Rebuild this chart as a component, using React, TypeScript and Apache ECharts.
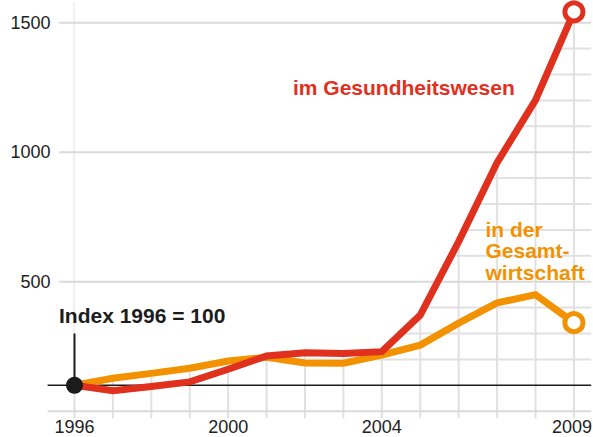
import React, { useEffect, useRef } from "react";
import * as echarts from "echarts";

// ---- data ----
const years = [1996, 1997, 1998, 1999, 2000, 2001, 2002, 2003, 2004, 2005, 2006, 2007, 2008, 2009];
const health = [100, 79, 95, 113, 162, 213, 226, 223, 230, 371, 655, 960, 1201, 1542];
const economy = [100, 127, 146, 166, 194, 208, 186, 185, 217, 255, 340, 418, 450, 342];
const xLabelYears = [1996, 2000, 2004, 2009];
const yTickValues = [0, 500, 1000, 1500];
const majorLevels = [500, 1000, 1500];
const minorLevels = [200, 300, 400, 600, 700, 800, 900, 1100, 1200, 1300, 1400];
const indexLevel = 100;
const zeroLevel = 0;
const indexMarkerTop = 300;

const healthLabel = "im Gesundheitswesen";
const economyLabel = ["in der", "Gesamt-", "wirtschaft"];
const indexLabel = "Index 1996 = 100";

// ---- style ----
const RED = "#e0301e";
const ORANGE = "#f39200";
const GRID = "#e1e1e1";
const MAJOR = "#dadada";
const INK = "#1c1c1c";
const FONT = '"Liberation Sans", Arial, sans-serif';

const X_MIN = 1995.3;
const X_MAX = 2009.45;
const MAJOR_START = 1995.6;
const Y_MAX = 1580;

export default function App() {
  const ref = useRef<HTMLDivElement>(null);

  useEffect(() => {
    if (!ref.current) return;
    const chart = echarts.init(ref.current, undefined, { renderer: "svg" });

    const last = years.length - 1;
    const maskData: number[][] = years.map((y, i) => [y, Math.max(health[i], economy[i])]);
    maskData.push([X_MAX, health[last]]);

    const lineSeg = (a: number[], b: number[], stroke: string, w: number) => ({
      type: "line",
      shape: { x1: a[0], y1: a[1], x2: b[0], y2: b[1] },
      style: { stroke, lineWidth: w },
    });

    const option: any = {
      animation: false,
      grid: { left: 47.6, right: 1.8, top: 2, bottom: 25.8, containLabel: false, outerBoundsMode: "none" },
      xAxis: {
        type: "value",
        min: X_MIN,
        max: X_MAX,
        axisLine: { show: false },
        axisTick: { show: false },
        axisLabel: { show: false },
        splitLine: { show: false },
      },
      yAxis: {
        type: "value",
        min: 0,
        max: Y_MAX,
        interval: 500,
        axisLine: { show: false },
        axisTick: { show: false },
        splitLine: { show: false },
        axisLabel: {
          margin: -3,
          fontSize: 18,
          color: "#222",
          fontFamily: FONT,
          showMaxLabel: false,
          formatter: (v: number) => (yTickValues.indexOf(v) > 0 ? String(v) : ""),
        },
      },
      series: [
        // minor vertical grid lines (with ticks below the zero line)
        {
          type: "custom",
          z: 1,
          silent: true,
          clip: false,
          data: years.map((y) => [y, zeroLevel]),
          renderItem: (_p: any, api: any) => {
            const yr = api.value(0);
            const top = api.coord([yr, Y_MAX]);
            const bot = api.coord([yr, zeroLevel]);
            return lineSeg(top, [bot[0], bot[1] + 7], GRID, 2);
          },
        },
        // minor horizontal grid lines
        {
          type: "custom",
          z: 1,
          silent: true,
          clip: false,
          data: minorLevels.map((v) => [years[0], v]),
          renderItem: (_p: any, api: any) => {
            const v = api.value(1);
            return lineSeg(api.coord([years[0], v]), api.coord([X_MAX, v]), GRID, 2);
          },
        },
        // white mask above the curves
        {
          type: "line",
          z: 2,
          silent: true,
          symbol: "none",
          data: maskData,
          lineStyle: { width: 0, opacity: 0 },
          areaStyle: { origin: "end", color: "#ffffff", opacity: 1 },
        },
        // major lines
        {
          type: "custom",
          z: 3,
          silent: true,
          clip: false,
          data: majorLevels.map((v) => [MAJOR_START, v]),
          renderItem: (_p: any, api: any) => {
            const v = api.value(1);
            return lineSeg(api.coord([MAJOR_START, v]), api.coord([X_MAX, v]), MAJOR, 2);
          },
        },
        // zero line + index line + index marker
        {
          type: "custom",
          z: 3,
          silent: true,
          clip: false,
          data: [[years[0], indexLevel]],
          renderItem: (_p: any, api: any) => {
            const zA = api.coord([X_MIN, zeroLevel]);
            const zB = api.coord([X_MAX, zeroLevel]);
            const iA = api.coord([X_MIN, indexLevel]);
            const iB = api.coord([X_MAX, indexLevel]);
            const mA = api.coord([years[0], indexLevel]);
            const mB = api.coord([years[0], indexMarkerTop]);
            return {
              type: "group",
              children: [
                lineSeg(zA, zB, MAJOR, 2),
                lineSeg(iA, iB, INK, 1.6),
                lineSeg(mA, mB, INK, 2),
              ],
            };
          },
        },
        // x labels
        {
          type: "custom",
          z: 3,
          silent: true,
          clip: false,
          data: xLabelYears.map((y) => [y, zeroLevel]),
          renderItem: (_p: any, api: any) => {
            const yr = api.value(0);
            const p = api.coord([yr, zeroLevel]);
            return {
              type: "text",
              x: p[0],
              y: p[1] + 16,
              style: {
                text: String(yr),
                fill: "#222",
                fontSize: 18,
                fontFamily: FONT,
                align: yr === years[last] ? "right" : "center",
                verticalAlign: "middle",
              },
              ...(yr === years[last] ? { x: 592 } : {}),
            };
          },
        },
        {
          name: "Gesamtwirtschaft",
          type: "line",
          z: 4,
          symbol: "none",
          data: years.map((y, i) => [y, economy[i]]),
          lineStyle: { color: ORANGE, width: 7, join: "miter" },
        },
        {
          name: "Gesundheitswesen",
          type: "line",
          z: 5,
          symbol: "none",
          data: years.map((y, i) => [y, health[i]]),
          lineStyle: { color: RED, width: 7, join: "miter" },
        },
        {
          type: "scatter",
          z: 6,
          silent: true,
          symbol: "circle",
          symbolSize: 18,
          itemStyle: { opacity: 1 },
          data: [
            { value: [years[last], economy[last]], itemStyle: { color: "#fff", borderColor: ORANGE, borderWidth: 5, opacity: 1 } },
            { value: [years[last], health[last]], itemStyle: { color: "#fff", borderColor: RED, borderWidth: 5, opacity: 1 } },
          ],
        },
        {
          type: "scatter",
          z: 7,
          silent: true,
          symbol: "circle",
          symbolSize: 17,
          data: [[years[0], health[0]]],
          itemStyle: { color: INK, opacity: 1 },
        },
      ],
      graphic: [
        {
          type: "text",
          x: 293,
          y: 87,
          z: 10,
          style: { text: healthLabel, fill: RED, font: `bold 21px ${FONT}`, verticalAlign: "middle" },
        },
        ...economyLabel.map((t, i) => ({
          type: "text",
          x: 485.5,
          y: 229.5 + i * 21.3,
          z: 10,
          style: { text: t, fill: ORANGE, font: `bold 21px ${FONT}`, verticalAlign: "middle" },
        })),
        {
          type: "text",
          x: 59,
          y: 315,
          z: 10,
          style: { text: indexLabel, fill: INK, font: `bold 21px ${FONT}`, verticalAlign: "middle" },
        },
      ],
    };

    chart.setOption(option);
    return () => chart.dispose();
  }, []);

  return (
    <div
      ref={ref}
      style={{ position: "fixed", left: 0, top: 0, width: 593, height: 437, background: "#fff" }}
    />
  );
}
